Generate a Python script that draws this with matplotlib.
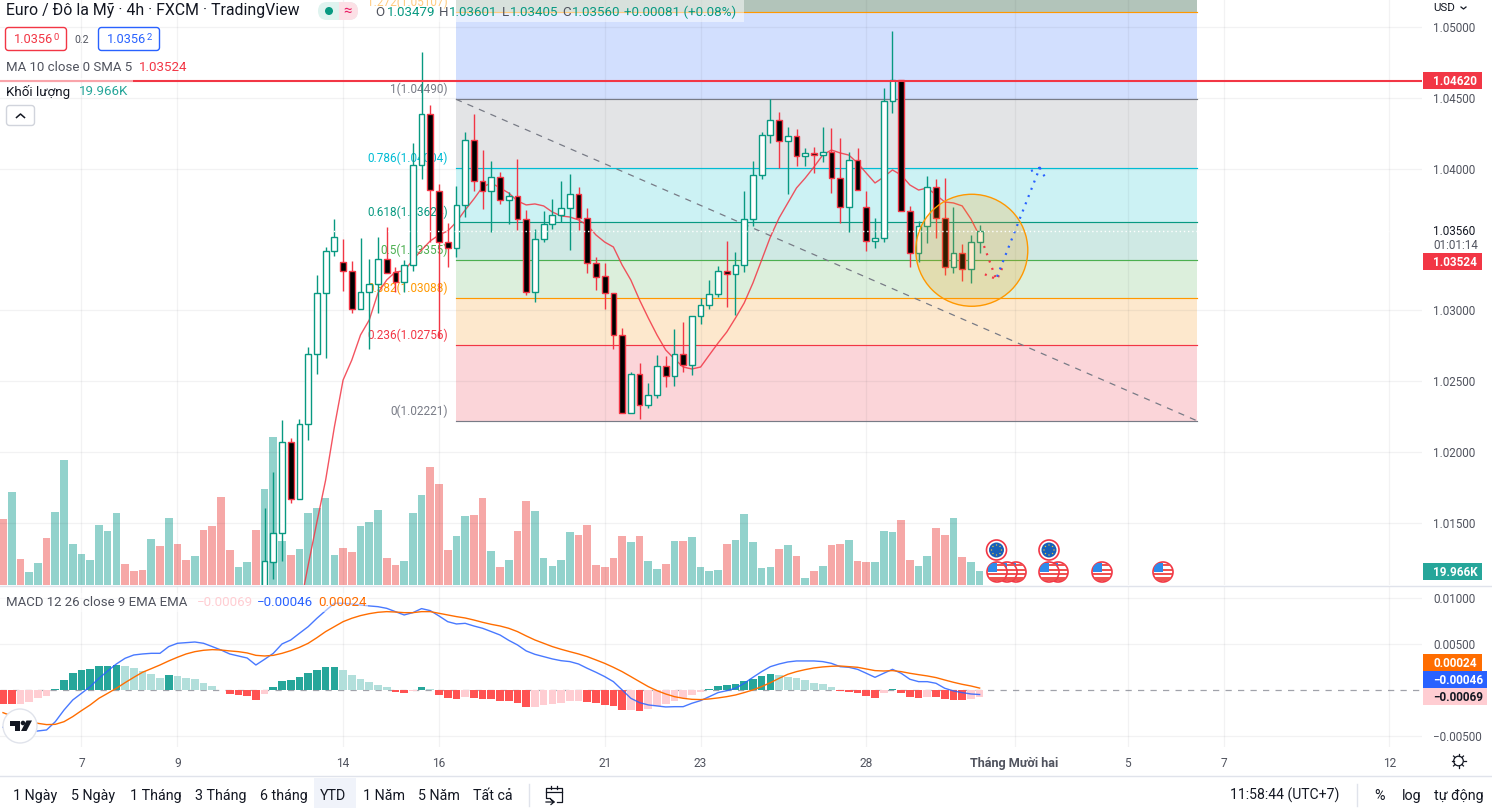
#!env python3
import numpy as np
import matplotlib
matplotlib.use("Agg")
import matplotlib.pyplot as plt
from matplotlib.lines import Line2D
from matplotlib.patches import Circle, Ellipse, FancyBboxPatch, Polygon, Rectangle
from matplotlib.transforms import Affine2D

plt.rcParams['font.family'] = ['Roboto', 'Liberation Sans', 'DejaVu Sans']

W, H = 1492, 808

# prices are in 1e-5 units, candles only reach the visible range from bar 30 on
first_candle = 30
opens = [101004, 101226, 101428, 102071, 101668, 102196, 102690, 103120, 103417,
         103339, 103276, 103007, 103127, 103184, 103360, 103269, 103198, 103318,
         104024, 104384, 103845, 103480, 103438, 103741, 104200, 103911, 103842,
         103939, 103779, 103807, 103643, 103127, 103502, 103607, 103675, 103720,
         103819, 103650, 103332, 103240, 103120, 102824, 102273, 102549, 102330,
         102400, 102605, 102534, 102690, 102612, 102958, 103036, 103113, 103276,
         103255, 103318, 103643, 103953, 104236, 104342, 104193, 104228, 104087,
         104108, 104094, 104115, 103932, 103727, 104059, 103727, 103487, 103509,
         104476, 104628, 103699, 103403, 103594, 103869, 103650, 103304, 103403,
         103290, 103480]
highs = [101605, 101859, 102226, 102099, 102233, 102741, 103250, 103449, 103643,
         103502, 103348, 103509, 103360, 103516, 103586, 103304, 103355, 104179,
         104824, 104449, 103890, 103614, 103878, 104259, 104386, 104132, 104054,
         103979, 103836, 104068, 103708, 103572, 103701, 103786, 103913, 103962,
         103871, 103722, 103374, 103334, 103120, 102875, 102565, 102628, 102485,
         102685, 102678, 102868, 102918, 102958, 103087, 103214, 103313, 103490,
         103410, 103842, 104054, 104257, 104490, 104398, 104294, 104280, 104146,
         104153, 104294, 104287, 104216, 104115, 104146, 103840, 103652, 104567,
         104972, 104628, 103737, 103629, 103946, 103925, 103932, 103730, 103469,
         103532, 103601]
lows = [100955, 101104, 101231, 101640, 101668, 102085, 102551, 102666, 103386,
        103139, 102983, 103007, 102725, 102979, 103261, 103127, 103127, 103280,
        103929, 103484, 102805, 103308, 103379, 103661, 103845, 103718, 103555,
        103749, 103607, 103567, 103110, 103059, 103482, 103576, 103622, 103426,
        103567, 103266, 103144, 103009, 102727, 102273, 102273, 102233, 102313,
        102383, 102461, 102468, 102565, 102546, 102906, 103012, 103092, 103024,
        102967, 103271, 103595, 103929, 104183, 104007, 103823, 104021, 104021,
        103967, 104047, 103830, 103619, 103555, 103847, 103421, 103442, 103484,
        104395, 103699, 103308, 103344, 103478, 103511, 103250, 103264, 103210,
        103193, 103405]
closes = [101231, 101428, 102071, 101668, 102198, 102690, 103120, 103417, 103520,
          103276, 103007, 103127, 103184, 103360, 103266, 103198, 103318, 104024,
          104384, 103849, 103484, 103438, 103741, 104200, 103911, 103842, 103939,
          103779, 103807, 103643, 103127, 103502, 103607, 103675, 103720, 103819,
          103650, 103332, 103233, 103120, 102824, 102273, 102549, 102330, 102400,
          102605, 102534, 102690, 102612, 102958, 103036, 103113, 103276, 103255,
          103318, 103643, 103953, 104236, 104342, 104193, 104228, 104087, 104108,
          104094, 104115, 103932, 103727, 104059, 103847, 103487, 103509, 104476,
          104628, 103699, 103403, 103594, 103869, 103650, 103304, 103403, 103290,
          103480, 103560]

ma_first = 34
ma_vals = [100885, 101202, 101506, 101802, 102176, 102508, 102649, 102826, 102932,
           103122, 103214, 103271, 103278, 103355, 103426, 103490, 103532, 103560,
           103624, 103708, 103786, 103871, 103899, 103864, 103828, 103772, 103744,
           103751, 103737, 103694, 103666, 103659, 103638, 103602, 103532, 103482,
           103447, 103320, 103214, 103073, 102946, 102826, 102720, 102657, 102600,
           102586, 102600, 102685, 102769, 102847, 102946, 103052, 103193, 103355,
           103518, 103652, 103758, 103864, 103934, 104012, 104096, 104132, 104111,
           104096, 104040, 103969, 103899, 103941, 103991, 103955, 103885, 103849,
           103864, 103814, 103765, 103758, 103737, 103645, 103524]

# volume in thousands, g/r = up/down bar
volumes = [94, 133, 37, 19, 31, 67, 104, 178, 58, 44, 36, 86, 77, 103, 30, 20, 21, 66, 56,
           96, 58, 36, 41, 78, 84, 125, 50, 26, 33, 78, 137, 211, 63, 43, 51, 103, 110, 124,
           43, 53, 47, 84, 90, 107, 39, 29, 34, 103, 128, 168, 144, 50, 70, 98, 100, 124, 48,
           26, 36, 77, 120, 106, 39, 27, 36, 76, 71, 86, 29, 26, 39, 70, 61, 70, 34, 23, 30,
           63, 63, 68, 26, 20, 21, 58, 64, 101, 61, 24, 26, 51, 57, 41, 10, 20, 27, 57, 58,
           64, 34, 33, 33, 77, 76, 93, 36, 27, 41, 81, 71, 96, 40, 33, 19.966]
vol_dirs = ("rgrggrgggg" "ggggrrrgrg" "rrgrrrrggr" "gggrgggggr" "rgggrrgggr" "rrggrrgrgr"
            "rgggggrrrr" "rrgrggrgrg" "gggrgggggr" "grgrgrrgrr" "gggrrggrrg" "rgg")

# MACD pane, 1e-5 units
hist_vals = [-145, -145, -145, -127, -80, -58, 18, 112, 188, 221, 232, 264, 264, 275, 264,
             243, 210, 178, 134, 167, 156, 134, 123, 80, 47, 4, -36, -47, -58, -101, -36,
             36, 101, 112, 145, 188, 221, 254, 254, 221, 167, 123, 91, 58, 36, -14, -25, -7,
             36, 14, -47, -80, -91, -69, -80, -91, -91, -116, -116, -134, -181, -178, -159,
             -145, -138, -112, -116, -127, -134, -156, -167, -210, -210, -225, -199, -167,
             -145, -112, -80, -47, -18, 14, 47, 58, 69, 101, 123, 156, 178, 167, 145, 134,
             112, 80, 69, 36, -7, -18, -29, -58, -80, -25, 14, -25, -72, -80, -69, -69, -91,
             -101, -101, -91, -69]
hist_kinds = ("rrppppdddd" "ddddllllld" "llllllrrrr" "pddddddddl" "lllllrrpdl" "rrrprrrrrr"
              "rpppppprrr" "rrprpppppp" "pddddddddl" "llllllrrrr" "rpdrrrprrr" "rpp")
macd_vals = [-402, -449, -460, -453, -442, -431, -341, -214, -105, -33, 40, 130, 210, 286,
             348, 384, 395, 402, 402, 475, 511, 518, 525, 511, 475, 438, 395, 373, 351, 275,
             337, 402, 504, 547, 620, 692, 783, 866, 946, 946, 938, 927, 917, 909, 891, 855,
             819, 844, 888, 866, 808, 746, 721, 728, 699, 674, 638, 601, 543, 493, 428, 391,
             366, 341, 322, 312, 286, 239, 196, 149, 94, 4, -87, -134, -159, -170, -181, -178,
             -178, -141, -112, -69, -25, -4, 22, 76, 141, 203, 257, 286, 308, 319, 319, 319,
             312, 293, 257, 250, 228, 185, 141, 185, 228, 185, 120, 94, 94, 76, 22, -7, -25,
             -40, -46]
signal_vals = [-243, -279, -312, -333, -359, -373, -370, -341, -286, -221, -159, -87, -33,
               22, 83, 141, 196, 235, 275, 319, 359, 395, 420, 435, 442, 438, 428, 420, 406,
               380, 373, 380, 402, 431, 467, 511, 572, 638, 692, 746, 783, 812, 833, 848, 855,
               851, 844, 844, 855, 855, 837, 819, 801, 786, 764, 739, 717, 699, 674, 638, 591,
               547, 511, 475, 446, 420, 395, 366, 330, 293, 250, 203, 149, 94, 40, -4, -40,
               -69, -87, -98, -101, -94, -83, -69, -51, -25, 4, 40, 83, 130, 174, 203, 225,
               243, 254, 261, 264, 257, 250, 232, 214, 210, 214, 203, 185, 170, 156, 138, 112,
               87, 65, 47, 24]

# fibonacci tool
fib_ratios = ['1.272', '1', '0.786', '0.618', '0.5', '0.382', '0.236', '0']
fib_prices = [1.05107, 1.04490, 1.04004, 1.03624, 1.03355, 1.03088, 1.02756, 1.02221]
fib_lines = ['#ff9800', '#787b86', '#00bcd4', '#089981', '#4caf50', '#ff9800', '#f23645', '#787b86']
fib_bands = ['#d2dffe', '#e3e4e6', '#ccf2f4', '#cfe9e4', '#dcefdc', '#fde8cd', '#fbd5d9']
fib_x = [51.95, 136.9]

# hand drawn forecast dots (bar index, price)
red_path1_x, red_path1_y = [112.5, 114.0], [1.03454, 1.03202]
red_path2_x, red_path2_y = [112.6, 114.0, 114.6], [1.03254, 1.03219, 1.03301]
blue_path1_x, blue_path1_y = [114.0, 118.9, 117.6], [1.03238, 1.04007, 1.03977]
blue_path2_x, blue_path2_y = [118.9, 119.6], [1.04007, 1.03927]

price_ticks = [1.05, 1.045, 1.04, 1.03, 1.025, 1.02, 1.015]
macd_ticks = [0.01, 0.005, -0.005]
macd_tick_labels = ['0.01000', '0.00500', '−0.00500']
time_pos = [9, 20, 39, 50, 69, 80, 99, 116, 129, 140, 159]
time_labels = ['7', '9', '14', '16', '21', '23', '28', 'Tháng Mười hai', '5', '7', '12']
range_labels = ['1 Ngày', '5 Ngày', '1 Tháng', '3 Tháng', '6 tháng', 'YTD', '1 Năm', '5 Năm', 'Tất cả']
range_xs = [13, 71, 130, 195, 260, 320, 363, 418, 473]

UP, DOWN = '#089981', '#f23645'
TXT = '#50535e'

fig = plt.figure(figsize=(W / 100, H / 100), dpi=100)
PX = Affine2D().scale(1, -1).translate(0, H)

xlim = (-3 / 8.72, (1422 - 3) / 8.72)
ax_vol = fig.add_axes([0, 1 - 585 / H, 1422 / W, 585 / H], zorder=0)
ax = fig.add_axes([0, 1 - 585 / H, 1422 / W, 585 / H], zorder=1, sharex=ax_vol)
ax_m = fig.add_axes([0, 1 - 747 / H, 1422 / W, 161 / H], sharex=ax_vol)
ax.patch.set_visible(False)
for a in (ax, ax_vol, ax_m):
    for s in a.spines.values():
        s.set_visible(False)

# volume
xs = np.arange(len(volumes))
vol_colors = ['#26a69a' if d == 'g' else '#ef5350' for d in vol_dirs]
ax_vol.bar(xs, volumes, width=0.88, color=vol_colors, alpha=0.5, linewidth=0)
ax_vol.set_ylim(0, 585 * 1.426)
ax_vol.set_yticks([])
ax_vol.tick_params(axis='x', length=0, labelbottom=False)
ax_vol.set_xlim(*xlim)

# fib bands and levels
ax.fill_between(fib_x, fib_prices[0], 1.06, color='#b2c4ba', linewidth=0, zorder=1)
for i, c in enumerate(fib_bands):
    ax.fill_between(fib_x, fib_prices[i + 1], fib_prices[i], color=c, linewidth=0, zorder=1)
for r, p, c in zip(fib_ratios, fib_prices, fib_lines):
    ax.plot(fib_x, [p, p], color=c, lw=0.85, zorder=2.8)
    ax.annotate(f'{r}({p:.5f})', (51.03, p), xytext=(0, 2.2), textcoords='offset points',
                ha='right', va='bottom', fontsize=8.5, color=c, zorder=3, annotation_clip=False)
ax.plot(fib_x, [fib_prices[1], fib_prices[-1]], color='#787b86', lw=0.9, ls=(0, (5, 5)), zorder=2.9)

# candles
cx = first_candle + np.arange(len(opens))
o, h, l, c = [np.array(v) / 1e5 for v in (opens, highs, lows, closes)]
up = c >= o
ax.vlines(cx, l, h, colors=[UP if u else DOWN for u in up], lw=1.0, zorder=3.6)
ax.bar(cx, np.abs(c - o), bottom=np.minimum(o, c), width=0.66,
       color=['white' if u else 'black' for u in up],
       edgecolor=[UP if u else DOWN for u in up], linewidth=1.0, zorder=4)

ax.plot(ma_first + np.arange(len(ma_vals)), np.array(ma_vals) / 1e5, color=DOWN, lw=1.0,
        alpha=0.85, zorder=3.5)

# forecast circle and dots
ax.add_patch(Ellipse((111.1, 1.03424), 112 / 8.72, 112 * 7.0588e-5, facecolor='#ff9800',
                     alpha=0.2, linewidth=0, zorder=4.5))
ax.add_patch(Ellipse((111.1, 1.03424), 112 / 8.72, 112 * 7.0588e-5, facecolor='none',
                     edgecolor='#ff9800', linewidth=1.0, zorder=4.5))
dots = (0, (0.9, 2.6))
ax.plot(red_path1_x, red_path1_y, color=DOWN, lw=1.6, ls=dots, zorder=5)
ax.plot(red_path2_x, red_path2_y, color=DOWN, lw=1.6, ls=dots, zorder=5)
ax.plot(blue_path1_x, blue_path1_y, color='#2962ff', lw=1.6, ls=dots, zorder=5)
ax.plot(blue_path2_x, blue_path2_y, color='#2962ff', lw=1.6, ls=dots, zorder=5)

ax.axhline(1.0462, color=DOWN, lw=1.5, zorder=5)
ax.axhline(1.0356, color='white', lw=1.0, ls=(0, (1, 2)), zorder=5)

ax.set_ylim(1.051906 - 585 * 7.0588e-5, 1.051906)
ax.set_yticks(price_ticks)
ax.set_yticklabels([f'{p:.5f}' for p in price_ticks])
ax.yaxis.tick_right()
ax.tick_params(axis='y', length=0, pad=7.9, labelsize=8.4, labelcolor=TXT)
ax.tick_params(axis='x', length=0, labelbottom=False)
ax.set_axisbelow(False)
ax.grid(True, color='#2a2e39', alpha=0.06, lw=0.9)

# MACD pane
hist_colors = {'d': '#26a69a', 'l': '#b2dfdb', 'r': '#ff5252', 'p': '#ffcdd2'}
ax_m.bar(xs, np.array(hist_vals) / 1e5, width=0.88, linewidth=0,
         color=[hist_colors[k] for k in hist_kinds], zorder=2)
ax_m.axhline(0, color='#787b86', lw=0.9, ls=(0, (5, 5)), alpha=0.7, zorder=1.5)
ax_m.plot(xs, np.array(macd_vals) / 1e5, color='#2962ff', lw=1.0, alpha=0.85, zorder=3)
ax_m.plot(xs, np.array(signal_vals) / 1e5, color='#ff6d00', lw=1.0, zorder=3)
ax_m.set_ylim((690.3 - 747) * 1.087e-4, (690.3 - 586) * 1.087e-4)
ax_m.set_yticks(macd_ticks)
ax_m.set_yticklabels(macd_tick_labels)
ax_m.yaxis.tick_right()
ax_m.tick_params(axis='y', length=0, pad=7.9, labelsize=8.4, labelcolor=TXT)
ax_m.set_xticks(time_pos)
ax_m.set_xticklabels(time_labels)
ax_m.tick_params(axis='x', length=0, pad=7, labelsize=8.6, labelcolor=TXT)
ax_m.get_xticklabels()[7].set_fontweight('bold')
ax_m.get_xticklabels()[7].set_fontsize(9.1)
ax_m.set_axisbelow(True)
ax_m.grid(True, color='#2a2e39', alpha=0.06, lw=0.9)
ax_m.set_xlim(*xlim)


def label(x, y, s, color=TXT, size=12, ha='left', **kw):
    fig.text(x, y + 0.8, s, transform=PX, fontsize=size * 0.72, color=color, ha=ha, va='center',
             zorder=20, **kw)


def box(x0, y0, x1, y1, fc, ec='none', lw=0, alpha=None, z=15):
    fig.add_artist(Rectangle((x0, y0), x1 - x0, y1 - y0, transform=PX, facecolor=fc, edgecolor=ec,
                             linewidth=lw, alpha=alpha, zorder=z))


def rbox(x0, y0, x1, y1, fc, ec, r=3, lw=1.0):
    p = FancyBboxPatch((x0, y0), x1 - x0, y1 - y0, boxstyle=f'round,pad=0,rounding_size={r}',
                       transform=PX, facecolor=fc, edgecolor=ec, linewidth=lw, zorder=15)
    fig.add_artist(p)
    return p


def seg(xs_, ys_, color=TXT, lw=1.0, z=18):
    fig.add_artist(Line2D(xs_, ys_, transform=PX, color=color, lw=lw, zorder=z))


def tag(y0, y1, x1, fc, s, color='white'):
    box(1423, y0, x1, y1, fc)
    label(1433, (y0 + y1) / 2, s, color=color, size=11.8, fontweight='bold')


# pane separators
seg([0, W], [585.5, 585.5], '#e0e3eb', 1.0, 14)
seg([0, W], [775.5, 775.5], '#e0e3eb', 1.0, 14)

# legend backgrounds
box(368, 0, 744, 22, 'white', alpha=0.5)
box(0, 78, 133, 82, 'white', alpha=0.55)
box(0, 593, 368, 612, 'white', alpha=0.5)

# header
label(6, 10, 'Euro / Đô la Mỹ · 4h · FXCM · TradingView', color='#131722', size=15.9)
pill = rbox(318, 2, 358, 20, '#dff3ef', 'none', r=9)
pink = Rectangle((339, 2), 19, 18, transform=PX, facecolor='#fce0e6', linewidth=0, zorder=16)
fig.add_artist(pink)
pink.set_clip_path(pill)
fig.add_artist(Circle((329, 11), 4, transform=PX, facecolor=UP, linewidth=0, zorder=17))
label(347, 10, '≈', color='#e91e63', size=15, ha='center')
for x, s, col in [(375, 'O', TXT), (387, '1.03479', UP), (439, 'H', TXT), (449, '1.03601', UP),
                  (502, 'L', TXT), (510, '1.03405', UP), (562, 'C', TXT), (572, '1.03560', UP),
                  (624, '+0.00081 (+0.08%)', UP)]:
    label(x, 12, s, color=col, size=13.4)

rbox(5.5, 27.5, 66.5, 50.5, 'white', DOWN)
label(13.5, 39, '1.0356', color=DOWN, size=12.8)
label(53, 37, '0', color=DOWN, size=9.5)
label(82, 39, '0.2', color=TXT, size=10.5, ha='center')
rbox(98.5, 27.5, 159.5, 50.5, 'white', '#2962ff')
label(107, 39, '1.0356', color='#2962ff', size=12.8)
label(146.5, 37, '2', color='#2962ff', size=9.5)
label(6, 67, 'MA 10 close 0 SMA 5', size=13.2)
label(139, 67, '1.03524', color=DOWN, size=13.4)
label(6, 91, 'Khối lượng', color='#131722', size=13.4)
label(79, 91, '19.966K', color='#26a69a', size=13.4)
rbox(6.5, 105.5, 34.5, 125.5, 'white', '#d1d4dc')
seg([16.5, 20.5, 24.5], [117.5, 114, 117.5], '#131722', 1.1)

# right axis extras
label(1433, 7, 'USD', color='#131722', size=11.5)
seg([1461, 1463.5, 1466], [7, 9, 7], '#131722', 0.9)
label(1433, 230.5, '1.03560', color='#131722', size=11.6)
label(1433, 244.5, '01:01:14', color=TXT, size=11.6)
tag(72, 88.7, 1481.7, DOWN, '1.04620')
tag(253, 269.7, 1481.7, DOWN, '1.03524')
tag(563, 579.7, 1481.7, '#26a69a', '19.966K')
tag(654, 671, 1481.7, '#ff6d00', '0.00024')
tag(671, 688, 1487, '#2962ff', '−0.00046')
tag(688, 705, 1487, '#ffcdd2', '−0.00069', color='#131722')

# macd legend
label(6, 602, 'MACD 12 26 close 9 EMA EMA', size=13.2)
label(197, 602, '−0.00069', color='#ffcdd2', size=13.4)
label(257, 602, '−0.00046', color='#2962ff', size=13.4)
label(318, 602, '0.00024', color='#ff6d00', size=13.4)

# event markers
for ex in [996.5, 1049]:
    fig.add_artist(Circle((ex, 550), 10, transform=PX, facecolor='white', edgecolor=DOWN,
                          linewidth=1.2, zorder=12))
    fig.add_artist(Circle((ex, 550), 7.5, transform=PX, facecolor='#1760b8', linewidth=0, zorder=13))
    for ang in np.arange(0, 360, 45):
        fig.add_artist(Circle((ex + 5 * np.cos(np.radians(ang)), 550 + 5 * np.sin(np.radians(ang))), 0.7,
                              transform=PX, facecolor='#e8c13a', linewidth=0, zorder=14))
for ex in [1016, 1007, 997, 1058, 1049, 1102, 1163]:
    clip = Circle((ex, 572), 10, transform=PX, facecolor='white', edgecolor=DOWN, linewidth=1.2,
                  zorder=12)
    fig.add_artist(clip)
    for sy, sh, col in [(564, 2.2, '#ef5350'), (568.5, 2.2, '#ef5350'), (573, 2.2, '#ef5350'),
                        (577, 3.5, '#ef5350')]:
        r_ = Rectangle((ex - 9, sy), 18, sh, transform=PX, facecolor=col, linewidth=0, zorder=12)
        fig.add_artist(r_)
        r_.set_clip_path(clip)
    r_ = Rectangle((ex - 9, 563), 9, 9, transform=PX, facecolor='#2e8bea', linewidth=0, zorder=12)
    fig.add_artist(r_)
    r_.set_clip_path(clip)

# tradingview badge
fig.add_artist(Circle((20, 726), 17, transform=PX, facecolor='white', edgecolor='#e0e3eb',
                      linewidth=1.0, zorder=15))
fig.add_artist(Polygon([(10, 720.5), (20, 720.5), (20, 731), (15, 731), (15, 725.5), (10, 725.5)],
                       transform=PX, facecolor='#131722', linewidth=0, zorder=16))
fig.add_artist(Circle((23, 723), 2.3, transform=PX, facecolor='#131722', linewidth=0, zorder=16))
fig.add_artist(Polygon([(26.5, 720.5), (32, 720.5), (26.5, 731), (21, 731)], transform=PX,
                       facecolor='#131722', linewidth=0, zorder=16))

# bottom toolbar
box(314, 778, 356, 808, '#f0f3fa', z=12)
for x, s in zip(range_xs, range_labels):
    label(x, 795, s, color='#131722', size=14.2)
seg([528.5, 528.5], [784, 806], '#e0e3eb', 1.0)
seg([550, 546, 546, 562, 562, 557], [798, 798, 787.5, 787.5, 802, 802], '#131722', 0.9)
seg([546, 562], [791.5, 791.5], '#131722', 0.9)
seg([551, 551], [785.5, 789], '#131722', 0.9)
seg([557, 557], [785.5, 789], '#131722', 0.9)
seg([546, 554, 551, 554, 551], [802, 802, 799.5, 802, 804.5], '#131722', 0.9)
label(1230, 795, '11:58:44 (UTC+7)', color='#131722', size=14)
seg([1356.5, 1356.5], [784, 806], '#e0e3eb', 1.0)
label(1374, 795, '%', color='#131722', size=14.2)
label(1402, 795, 'log', color='#131722', size=14.2)
label(1434, 795, 'tự động', color='#131722', size=14.2)

# settings gear
fig.add_artist(Circle((1458.5, 761), 4.8, transform=PX, facecolor='none', edgecolor='#131722',
                      linewidth=0.9, zorder=18))
for ang in np.radians(np.arange(0, 360, 45)):
    seg([1458.5 + 5 * np.cos(ang), 1458.5 + 7 * np.cos(ang)],
        [761 + 5 * np.sin(ang), 761 + 7 * np.sin(ang)], '#131722', 0.9)

fig.savefig('out.png', dpi=100)
